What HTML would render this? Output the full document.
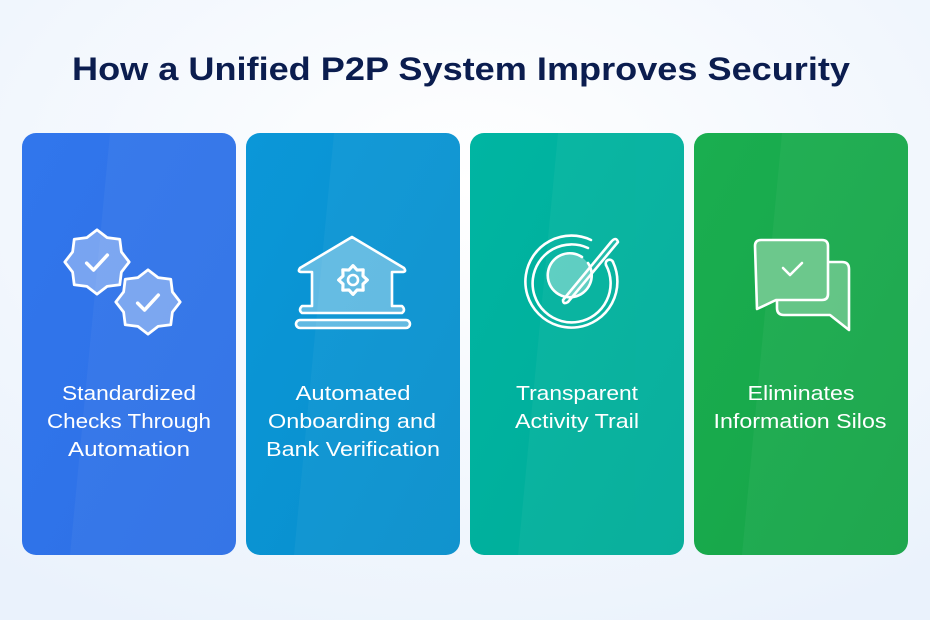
<!DOCTYPE html>
<html><head><meta charset="utf-8"><style>
html,body{margin:0;padding:0;width:930px;height:620px;overflow:hidden;background:#f6f9fe}
svg{display:block}
text{font-family:"Liberation Sans",sans-serif}
</style></head><body>
<svg width="930" height="620" viewBox="0 0 930 620" xmlns="http://www.w3.org/2000/svg">
<defs>
<radialGradient id="bg" cx="0.5" cy="0.3" r="0.8"><stop offset="0" stop-color="#ffffff"/><stop offset="1" stop-color="#eaf2fc"/></radialGradient>
<linearGradient id="g1" x1="0" y1="0" x2="1" y2="1"><stop offset="0" stop-color="#3176ec"/><stop offset="1" stop-color="#2d70e6"/></linearGradient>
<linearGradient id="g2" x1="0" y1="0" x2="1" y2="1"><stop offset="0" stop-color="#0b97d8"/><stop offset="1" stop-color="#088fcc"/></linearGradient>
<linearGradient id="g3" x1="0" y1="0" x2="1" y2="1"><stop offset="0" stop-color="#00b5a2"/><stop offset="1" stop-color="#00ac98"/></linearGradient>
<linearGradient id="g4" x1="0" y1="0" x2="1" y2="1"><stop offset="0" stop-color="#1aae50"/><stop offset="1" stop-color="#16a447"/></linearGradient>
<polygon id="badge" points="28,0 21.2,8.8 19.8,19.8 8.8,21.2 0,28 -8.8,21.2 -19.8,19.8 -21.2,8.8 -28,0 -21.2,-8.8 -19.8,-19.8 -8.8,-21.2 0,-28 8.8,-21.2 19.8,-19.8 21.2,-8.8" fill="rgba(255,255,255,0.35)" stroke="#fff" stroke-width="2.4" stroke-linejoin="round"/>
</defs>
<rect width="930" height="620" fill="url(#bg)"/>
<text x="461" y="80" text-anchor="middle" font-size="32" font-weight="bold" fill="#0b1d4f" textLength="778" lengthAdjust="spacingAndGlyphs">How a Unified P2P System Improves Security</text>

<rect x="22" y="133" width="214" height="422" rx="14" fill="url(#g1)"/>
<rect x="246" y="133" width="214" height="422" rx="14" fill="url(#g2)"/>
<rect x="470" y="133" width="214" height="422" rx="14" fill="url(#g3)"/>
<rect x="694" y="133" width="214" height="422" rx="14" fill="url(#g4)"/>
<g fill="#ffffff" opacity="0.04">
<path d="M110 133 L236 133 L236 555 L70 555 Z"/><path d="M334 133 L460 133 L460 555 L294 555 Z"/><path d="M558 133 L684 133 L684 555 L518 555 Z"/><path d="M782 133 L908 133 L908 555 L742 555 Z"/>
</g>

<!-- icon 1 -->
<g transform="translate(97,262) scale(1.15)"><use href="#badge"/><path d="M-9,1 L-3,7 L9,-6" fill="none" stroke="#fff" stroke-width="3" stroke-linecap="round" stroke-linejoin="round"/></g>
<g transform="translate(148,302) scale(1.15)"><use href="#badge"/><path d="M-9,1 L-3,7 L9,-6" fill="none" stroke="#fff" stroke-width="3" stroke-linecap="round" stroke-linejoin="round"/></g>

<!-- icon 2 house -->
<g fill="none" stroke="#fff" stroke-width="2.6" stroke-linejoin="round" stroke-linecap="round">
<path d="M352 237 L404 268 Q407 272 402 272 L392 272 L392 306 L402 306 Q406 310 402 313 L302 313 Q298 310 302 306 L312 306 L312 272 L302 272 Q297 272 300 268 Z" fill="rgba(255,255,255,0.35)"/>
<rect x="296" y="320" width="114" height="8" rx="4" fill="rgba(255,255,255,0.35)"/>
<polygon transform="translate(353,280) scale(1.2)" points="12,0 8.3,3.4 8.5,8.5 3.4,8.3 0,12 -3.4,8.3 -8.5,8.5 -8.3,3.4 -12,0 -8.3,-3.4 -8.5,-8.5 -3.4,-8.3 0,-12 3.4,-8.3 8.5,-8.5 8.3,-3.4"/>
<circle cx="353" cy="280" r="5"/>
</g>

<!-- icon 3 target -->
<g fill="none" stroke="#fff" stroke-width="2.6" stroke-linecap="round" stroke-linejoin="round">
<path d="M613 262 A46 46 0 1 1 591 240"/>
<path d="M606 265 A39 39 0 1 1 588 248"/>
<path d="M606 265 A3.5 3.5 0 0 1 613 262"/>
<path d="M588 263 A22 22 0 1 1 582 257" fill="rgba(255,255,255,0.35)"/>
<path d="M563 300 L611 242 Q616 236 618 242 L568 302 Q563 305 563 300 Z" fill="rgba(255,255,255,0.1)"/>
</g>

<!-- icon 4 chat -->
<g fill="none" stroke="#fff" stroke-width="2.6" stroke-linejoin="round">
<path d="M822 262 L842 262 Q849 262 849 269 L849 330 L830 315 L784 315 Q777 315 777 308 L777 298" fill="rgba(255,255,255,0.3)"/>
<path d="M761 240 L822 240 Q828 240 828 246 L828 294 Q828 300 822 300 L776 300 L757 309 L755 246 Q755 240 761 240 Z" fill="#6cc88c"/>
<path d="M783 268 L790 275 L802 263" stroke-linecap="round"/>
</g>

<g font-size="20" fill="#fff" text-anchor="middle">
<text x="129" y="400" textLength="134" lengthAdjust="spacingAndGlyphs">Standardized</text><text x="129" y="428" textLength="164" lengthAdjust="spacingAndGlyphs">Checks Through</text><text x="129" y="456" textLength="122" lengthAdjust="spacingAndGlyphs">Automation</text>
<text x="353" y="400" textLength="115" lengthAdjust="spacingAndGlyphs">Automated</text><text x="352" y="428" textLength="168" lengthAdjust="spacingAndGlyphs">Onboarding and</text><text x="353" y="456" textLength="174" lengthAdjust="spacingAndGlyphs">Bank Verification</text>
<text x="577" y="400" textLength="122" lengthAdjust="spacingAndGlyphs">Transparent</text><text x="577" y="428" textLength="124" lengthAdjust="spacingAndGlyphs">Activity Trail</text>
<text x="801" y="400" textLength="107" lengthAdjust="spacingAndGlyphs">Eliminates</text><text x="800" y="428" textLength="173" lengthAdjust="spacingAndGlyphs">Information Silos</text>
</g>
</svg>
</body></html>
